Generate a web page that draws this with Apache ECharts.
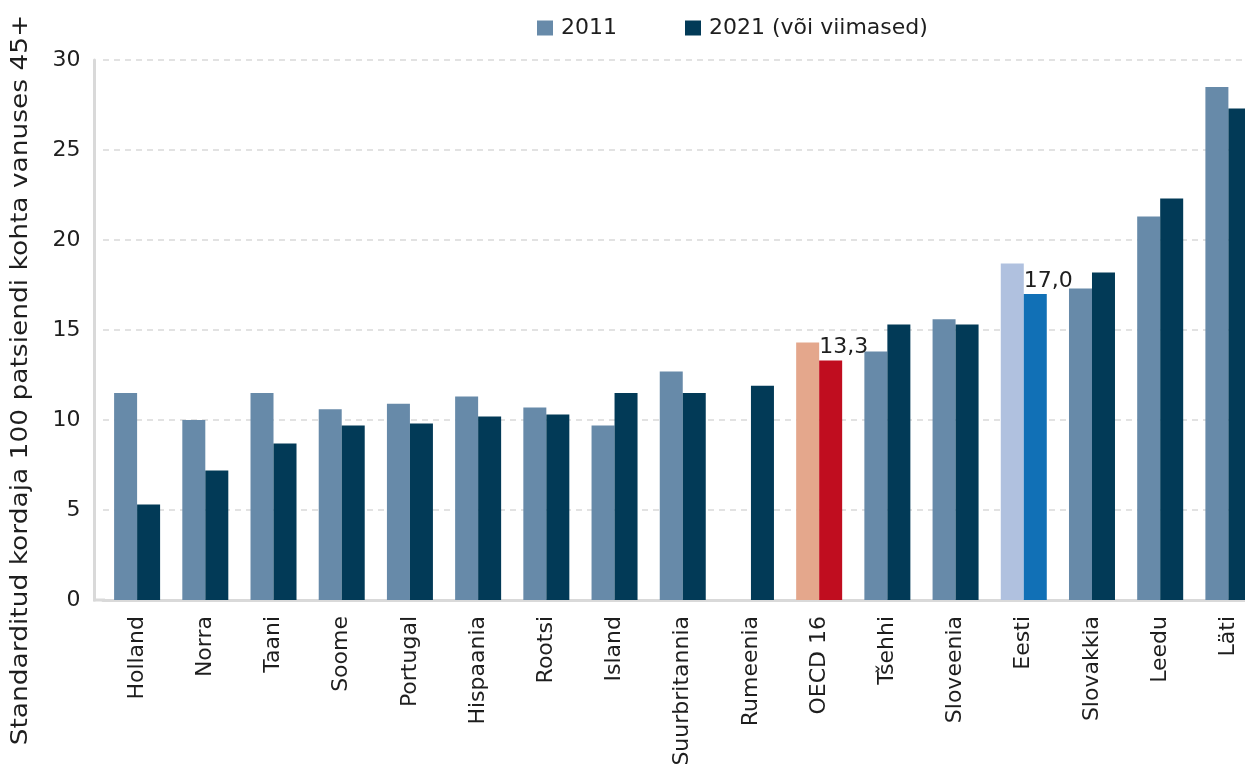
<!DOCTYPE html>
<html>
<head>
<meta charset="utf-8">
<script src="https://cdn.jsdelivr.net/npm/echarts@6/dist/echarts.min.js"></script>
<style>
html,body{margin:0;padding:0;background:#fff;}
#chart{width:1245px;height:780px;}
</style>
</head>
<body>
<div id="chart"></div>
<script>
const categories = ['Holland','Norra','Taani','Soome','Portugal','Hispaania','Rootsi','Island','Suurbritannia','Rumeenia','OECD 16','Tšehhi','Sloveenia','Eesti','Slovakkia','Leedu','Läti'];
const values2011 = [11.5, 10.0, 11.5, 10.6, 10.9, 11.3, 10.7, 9.7, 12.7, null, 14.3, 13.8, 15.6, 18.7, 17.3, 21.3, 28.5];
const values2021 = [5.3, 7.2, 8.7, 9.7, 9.8, 10.2, 10.3, 11.5, 11.5, 11.9, 13.3, 15.3, 15.3, 17.0, 18.2, 22.3, 27.3];
const seriesNames = ['2011', '2021 (või viimased)'];
const labelledCategories = ['OECD 16', 'Eesti'];

const FONT = 'DejaVu Sans';
const TEXT = '#1e1e1e';
const C2011 = '#678aa9';
const C2021 = '#023a57';
const highlight = {
  'OECD 16': ['#e4a78c', '#c00d1f'],
  'Eesti': ['#b0c1df', '#1170b6']
};

function build(values, idx) {
  return values.map((v, i) => {
    const cat = categories[i];
    const item = { value: v == null ? '-' : v };
    if (highlight[cat]) item.itemStyle = { color: highlight[cat][idx] };
    if (idx === 1 && labelledCategories.includes(cat)) {
      item.label = {
        show: true,
        position: 'top',
        align: 'left',
        offset: [-11.5, 0],
        distance: 2,
        formatter: p => p.value.toFixed(1).replace('.', ','),
        fontFamily: FONT,
        fontSize: 22,
        color: TEXT
      };
    }
    return item;
  });
}

const chart = echarts.init(document.getElementById('chart'), null, { renderer: 'canvas' });
chart.setOption({
  animation: false,
  backgroundColor: '#fff',
  textStyle: { fontFamily: FONT },
  grid: { left: 103, top: 60, width: 1159.5, height: 540, containLabel: false, outerBoundsMode: 'none' },
  legend: {
    left: 537, top: 17, padding: 0,
    itemWidth: 16, itemHeight: 15, itemGap: 68,
    icon: 'rect',
    textStyle: { fontFamily: FONT, fontSize: 22, color: TEXT, padding: [0, 0, 0, 3] },
    data: seriesNames
  },
  xAxis: {
    type: 'category',
    data: categories,
    axisLine: { show: true, lineStyle: { color: '#d9d9d9', width: 3 } },
    axisTick: { show: false },
    axisLabel: { rotate: 90, margin: 16, fontFamily: FONT, fontSize: 22, color: TEXT, interval: 0 }
  },
  yAxis: {
    type: 'value',
    min: 0, max: 30, interval: 5,
    offset: 8.5,
    axisLine: { show: true, lineStyle: { color: '#d9d9d9', width: 3 } },
    axisTick: { show: false },
    axisLabel: { margin: 14, fontFamily: FONT, fontSize: 22, color: TEXT },
    splitLine: { show: true, lineStyle: { color: '#d9d9d9', width: 1.5, type: [6, 5] } }
  },
  graphic: [
    { type: 'rect', shape: { x: 93, y: 598.5, width: 12, height: 3 }, style: { fill: '#d9d9d9' }, silent: true },
    { type: 'text', x: 21, y: 380, rotation: Math.PI / 2, scaleX: 1.15,
      style: { text: 'Standarditud kordaja 100 patsiendi kohta vanuses 45+', fontFamily: FONT, fontSize: 23, fill: TEXT, align: 'center', verticalAlign: 'middle' } }
  ],
  series: [
    { name: seriesNames[0], type: 'bar', barWidth: 23, barGap: '0%', itemStyle: { color: C2011 }, data: build(values2011, 0) },
    { name: seriesNames[1], type: 'bar', barWidth: 23, barGap: '0%', itemStyle: { color: C2021 }, data: build(values2021, 1) }
  ]
});
</script>
</body>
</html>
